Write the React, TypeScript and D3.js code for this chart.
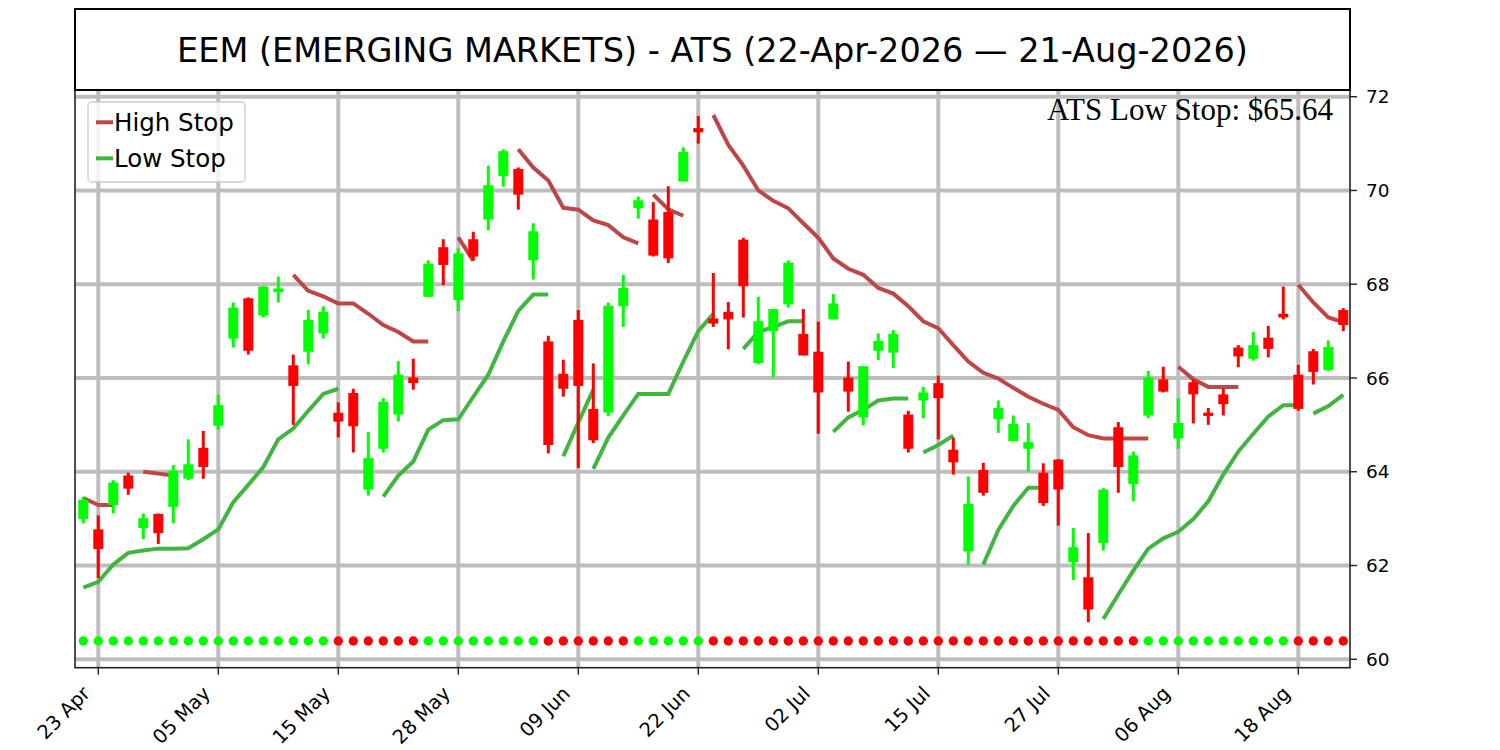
import React from "react"
import * as d3 from "d3"

// Candles, one per trading day from 22-Apr-2026 to 21-Aug-2026
const opens = [
  62.99, 62.77, 63.29, 63.92, 62.8, 63.1, 63.25, 63.85, 64.51, 64.98, 66.84, 67.7, 67.33, 67.83, 66.27, 66.56, 66.95,
  65.26, 65.68, 63.62, 64.49, 65.22, 66.01, 67.73, 68.79, 67.66, 68.96, 69.38, 70.31, 70.46, 68.51, 66.78, 66.09,
  67.24, 65.34, 65.26, 67.53, 69.62, 69.38, 69.54, 70.19, 71.33, 67.27, 67.41, 68.95, 66.32, 67.0, 67.57, 66.94,
  66.56, 67.25, 66.01, 65.16, 66.58, 66.54, 65.22, 65.52, 65.89, 64.47, 62.3, 64.04, 65.12, 64.65, 64.49, 63.98,
  64.26, 62.07, 61.75, 62.48, 64.95, 63.74, 65.2, 65.97, 64.71, 65.91, 65.26, 65.65, 66.65, 66.41, 66.86, 67.37,
  66.07, 66.57, 66.17, 67.45,
]
const highs = [
  63.47, 63.07, 63.82, 63.98, 63.11, 63.11, 64.14, 64.69, 64.87, 65.64, 67.61, 67.72, 67.96, 68.16, 66.5, 67.45, 67.53,
  65.48, 65.77, 64.85, 65.57, 66.36, 66.41, 68.51, 68.96, 68.77, 69.12, 70.53, 70.88, 70.49, 69.3, 66.9, 66.39,
  67.45, 66.31, 67.61, 68.2, 69.87, 69.75, 70.09, 70.92, 71.59, 68.24, 67.62, 68.99, 67.73, 67.47, 68.51, 67.47,
  67.2, 67.79, 66.35, 66.25, 66.95, 67.02, 65.3, 65.81, 66.05, 64.73, 63.9, 64.19, 65.52, 65.2, 65.04, 64.18,
  64.27, 62.8, 62.69, 63.65, 65.06, 64.43, 66.15, 66.24, 65.57, 65.97, 65.36, 65.77, 66.7, 66.98, 67.11, 67.95,
  66.28, 66.62, 66.8, 67.49,
]
const lows = [
  62.9, 61.73, 63.11, 63.51, 62.56, 62.46, 62.9, 63.82, 63.85, 64.9, 66.65, 66.5, 67.29, 67.61, 65.0, 66.29, 66.84,
  64.73, 64.41, 63.49, 64.41, 65.07, 65.75, 67.73, 67.98, 67.43, 68.5, 69.15, 70.08, 69.59, 68.1, 64.39, 65.6,
  64.08, 64.61, 65.19, 67.09, 69.4, 68.59, 68.45, 70.19, 71.0, 67.09, 66.61, 67.29, 66.29, 66.01, 67.5, 66.48,
  64.81, 67.25, 65.28, 64.99, 66.38, 66.21, 64.41, 65.14, 64.69, 63.94, 62.02, 63.49, 64.83, 64.65, 64.0, 63.27,
  62.85, 61.69, 60.79, 62.32, 63.55, 63.37, 65.14, 65.69, 64.49, 65.03, 65.0, 65.2, 66.23, 66.37, 66.44, 67.25,
  65.3, 65.86, 66.15, 67.0,
]
const closes = [
  63.4, 62.35, 63.77, 63.64, 63.01, 62.69, 64.02, 64.16, 64.1, 65.42, 67.5, 66.58, 67.95, 67.91, 65.83, 67.24, 67.41,
  65.07, 64.97, 64.29, 65.49, 66.07, 65.89, 68.44, 68.41, 68.66, 68.59, 70.11, 70.84, 69.91, 69.13, 64.57, 65.77,
  65.83, 64.67, 67.54, 67.92, 69.79, 68.61, 68.55, 70.82, 71.24, 67.16, 67.25, 67.96, 67.21, 67.47, 68.46, 66.48,
  65.69, 67.59, 65.71, 66.25, 66.79, 66.94, 64.49, 65.69, 65.57, 64.2, 63.31, 63.55, 65.36, 65.02, 64.63, 63.33,
  63.62, 62.39, 61.06, 63.62, 64.1, 64.35, 66.01, 65.71, 65.04, 65.65, 65.19, 65.44, 66.46, 66.7, 66.62, 67.29,
  65.34, 66.13, 66.66, 67.13,
]

// ATS trend state per day (1 = up, 0 = down)
const trendUp = [
  1, 1, 1, 1, 1, 1, 1, 1, 1, 1, 1, 1, 1, 1, 1, 1, 1, 0, 0, 0, 0, 0, 0, 1, 1, 1, 1, 1, 1, 1, 1, 0, 0, 0, 0, 0, 0, 1,
  1, 1, 1, 1, 0, 0, 0, 0, 0, 0, 0, 0, 0, 0, 0, 0, 0, 0, 0, 0, 0, 0, 0, 0, 0, 0, 0, 0, 0, 0, 0, 0, 0, 1, 1, 1, 1, 1,
  1, 1, 1, 1, 1, 0, 0, 0, 0,
]

// stop lines, drawn as separate runs (start day + values)
const highStopRuns = [
  { start: 0, values: [63.44, 63.29, 63.29] },
  { start: 4, values: [64.0, 63.96, 63.92] },
  { start: 14, values: [68.2, 67.86, 67.74, 67.59, 67.59, 67.37, 67.13, 66.98, 66.78, 66.78] },
  { start: 25, values: [69.0, 68.5] },
  { start: 29, values: [70.88, 70.49, 70.21, 69.63, 69.59, 69.36, 69.26, 69.0, 68.87] },
  { start: 38, values: [69.91, 69.6, 69.46] },
  {
    start: 42,
    values: [
      71.61, 70.97, 70.53, 70.0, 69.78, 69.62, 69.3, 68.99, 68.55, 68.33, 68.2, 67.92, 67.8, 67.53, 67.21, 67.06, 66.7,
      66.35, 66.11, 65.99, 65.79, 65.6, 65.45, 65.32, 64.95, 64.78, 64.71, 64.71, 64.71, 64.71,
    ],
  },
  { start: 73, values: [66.24, 65.97, 65.81, 65.81, 65.81] },
  { start: 81, values: [67.99, 67.61, 67.29, 67.19] },
]
const lowStopRuns = [
  {
    start: 0,
    values: [
      61.53, 61.65, 62.02, 62.27, 62.32, 62.36, 62.36, 62.37, 62.56, 62.77, 63.35, 63.72, 64.1, 64.69, 64.92, 65.3,
      65.66, 65.77,
    ],
  },
  { start: 20, values: [63.47, 63.92, 64.22, 64.9, 65.1, 65.12, 65.6, 66.07, 66.78, 67.43, 67.78, 67.78] },
  { start: 32, values: [64.33, 65.05, 65.75] },
  { start: 34, values: [64.06, 64.73, 65.2, 65.66, 65.66, 65.66, 66.35, 67.0, 67.37] },
  { start: 44, values: [66.62, 66.98, 67.09, 67.21, 67.21] },
  { start: 50, values: [64.85, 65.16, 65.32, 65.52, 65.56, 65.56] },
  { start: 56, values: [64.41, 64.57, 64.77] },
  { start: 60, values: [62.02, 62.76, 63.27, 63.66, 63.66] },
  {
    start: 68,
    values: [60.86, 61.38, 61.89, 62.36, 62.58, 62.72, 62.99, 63.37, 63.94, 64.43, 64.81, 65.18, 65.42, 65.42],
  },
  { start: 82, values: [65.24, 65.4, 65.64] },
]

const tickDays = [1, 9, 17, 25, 33, 41, 49, 57, 65, 73, 81]
const tickLabels = ["23 Apr", "05 May", "15 May", "28 May", "09 Jun", "22 Jun", "02 Jul", "15 Jul", "27 Jul", "06 Aug", "18 Aug"]
const priceTicks = [60, 62, 64, 66, 68, 70, 72]

const title = "EEM (EMERGING MARKETS) - ATS (22-Apr-2026 \u2014 21-Aug-2026)"
const lastLowStop = 65.64

const UP = "#00ff00"
const DOWN = "#ff0000"
const HIGH_STOP = "#be4646"
const LOW_STOP = "#40b640"
const GRID = "#bdbdbd"
const SANS = "DejaVu Sans, sans-serif"

export default function App() {
  const W = 1500
  const H = 750
  const plot = { left: 75, right: 1350, top: 90, bottom: 667.7 }

  const x = d3.scaleLinear().domain([-0.553, 84.447]).range([plot.left, plot.right])
  const y = d3.scaleLinear().domain([59.82, 72.143]).range([plot.bottom, plot.top])

  const line = d3
    .line<number>()
    .x((_, i) => x(i))
    .y((d) => y(d))

  const bodyW = 10
  const dotY = y(60.39)

  return (
    <svg
      width={W}
      height={H}
      style={{ position: "absolute", left: 0, top: 0, background: "#fff" }}
      fontFamily={SANS}
    >
      <rect x={0} y={0} width={W} height={H} fill="#fff" />

      {/* grid */}
      <g stroke={GRID} strokeWidth={4}>
        {priceTicks.map((t) => (
          <line key={"gy" + t} x1={plot.left} x2={plot.right} y1={y(t)} y2={y(t)} />
        ))}
        {tickDays.map((d) => (
          <line key={"gx" + d} x1={x(d)} x2={x(d)} y1={plot.top} y2={plot.bottom} />
        ))}
      </g>

      {/* trend dots */}
      {trendUp.map((u, i) => (
        <circle key={"dot" + i} cx={x(i)} cy={dotY} r={4.7} fill={u ? UP : DOWN} />
      ))}

      {/* stop lines */}
      {highStopRuns.map((r, k) => (
        <path
          key={"hs" + k}
          d={line.x((_, i) => x(r.start + i))(r.values) || ""}
          fill="none"
          stroke={HIGH_STOP}
          strokeWidth={4}
        />
      ))}
      {lowStopRuns.map((r, k) => (
        <path
          key={"ls" + k}
          d={line.x((_, i) => x(r.start + i))(r.values) || ""}
          fill="none"
          stroke={LOW_STOP}
          strokeWidth={4}
        />
      ))}

      {/* candles */}
      {opens.map((o, i) => {
        const c = closes[i]
        const col = c >= o ? UP : DOWN
        const top = y(Math.max(o, c))
        const bot = y(Math.min(o, c))
        return (
          <g key={"c" + i}>
            <line x1={x(i)} x2={x(i)} y1={y(highs[i])} y2={y(lows[i])} stroke={col} strokeWidth={3} />
            <rect x={x(i) - bodyW / 2} y={top} width={bodyW} height={Math.max(bot - top, 1.5)} fill={col} />
          </g>
        )
      })}

      {/* frame */}
      <rect
        x={plot.left}
        y={plot.top}
        width={plot.right - plot.left}
        height={plot.bottom - plot.top}
        fill="none"
        stroke="#222"
        strokeWidth={1.6}
      />

      {/* right price axis */}
      {priceTicks.map((t) => (
        <g key={"yt" + t}>
          <line x1={plot.right} x2={plot.right + 7} y1={y(t)} y2={y(t)} stroke="#222" strokeWidth={1.4} />
          <text x={plot.right + 16} y={y(t)} dy="0.36em" fontSize={18.5} fill="#000">
            {t}
          </text>
        </g>
      ))}

      {/* bottom date axis */}
      {tickDays.map((d, k) => (
        <g key={"xt" + d}>
          <line x1={x(d)} x2={x(d)} y1={plot.bottom} y2={plot.bottom + 7} stroke="#222" strokeWidth={1.4} />
          <text
            transform={`translate(${x(d) - 7},${plot.bottom + 27}) rotate(-45)`}
            textAnchor="end"
            fontSize={19.5}
            fill="#000"
          >
            {tickLabels[k]}
          </text>
        </g>
      ))}

      {/* title box */}
      <rect x={plot.left} y={9} width={plot.right - plot.left} height={plot.top - 9} fill="#fff" stroke="#000" strokeWidth={2} />
      <text x={(plot.left + plot.right) / 2} y={61.5} textAnchor="middle" fontSize={33.5} fill="#000">
        {title}
      </text>

      {/* last stop value */}
      <text x={1333} y={120} textAnchor="end" fontSize={31} fontFamily="Liberation Serif, serif" fill="#000">
        ATS Low Stop: ${lastLowStop.toFixed(2)}
      </text>

      {/* legend */}
      <g>
        <rect x={88} y={102} width={157} height={80} rx={4} fill="#fff" fillOpacity={0.8} stroke="#cccccc" strokeWidth={1.3} />
        <line x1={96} x2={113} y1={122.3} y2={122.3} stroke={HIGH_STOP} strokeWidth={4} />
        <text x={114} y={131} fontSize={24.5} fill="#000">
          High Stop
        </text>
        <line x1={96} x2={113} y1={158.3} y2={158.3} stroke={LOW_STOP} strokeWidth={4} />
        <text x={114} y={166.7} fontSize={24.5} fill="#000">
          Low Stop
        </text>
      </g>
    </svg>
  )
}
